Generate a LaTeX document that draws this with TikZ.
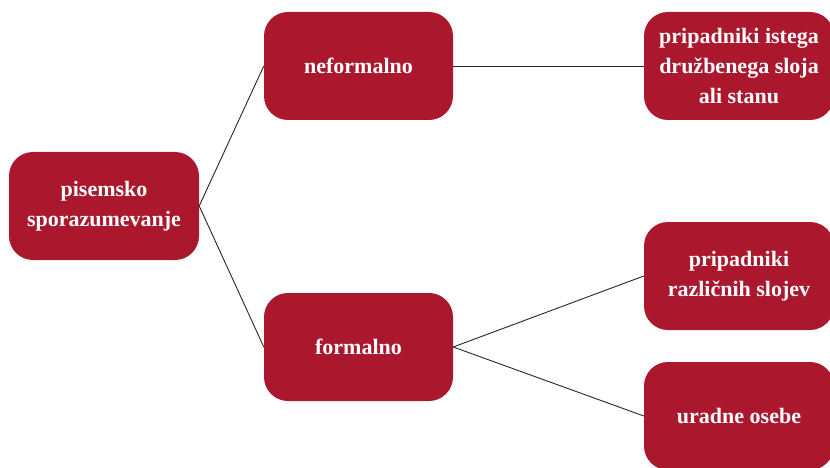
\documentclass[tikz,border=0pt]{standalone}
\usepackage{fontspec}
\setmainfont{Liberation Serif}
\definecolor{boxred}{HTML}{AB182D}
\begin{document}
\begin{tikzpicture}[x=1pt,y=-1pt,
  box/.style={fill=boxred, draw=none, rounded corners=24pt, text=white,
    font=\fontsize{22}{30}\selectfont\bfseries, align=center, inner sep=0pt},
  conn/.style={draw=black!85, line width=0.9pt}]
\useasboundingbox (0,0) rectangle (830,468);
\node[box, minimum width=190pt, minimum height=108pt] (root) at (104,206) {pisemsko\\sporazumevanje};
\node[box, minimum width=189pt, minimum height=108pt] (nf) at (358.5,66) {neformalno};
\node[box, minimum width=189pt, minimum height=108pt] (f) at (358.5,347) {formalno};
\node[box, minimum width=190pt, minimum height=108pt] (r1) at (739,66) {pripadniki istega\\družbenega sloja\\ali stanu};
\node[box, minimum width=190pt, minimum height=108pt] (r2) at (739,276) {pripadniki\\različnih slojev};
\node[box, minimum width=190pt, minimum height=108pt] (r3) at (739,416) {uradne osebe};
\draw[conn] (root.east) -- (nf.west);
\draw[conn] (root.east) -- (f.west);
\draw[conn] (nf.east) -- (r1.west);
\draw[conn] (f.east) -- (r2.west);
\draw[conn] (f.east) -- (r3.west);
\end{tikzpicture}
\end{document}
